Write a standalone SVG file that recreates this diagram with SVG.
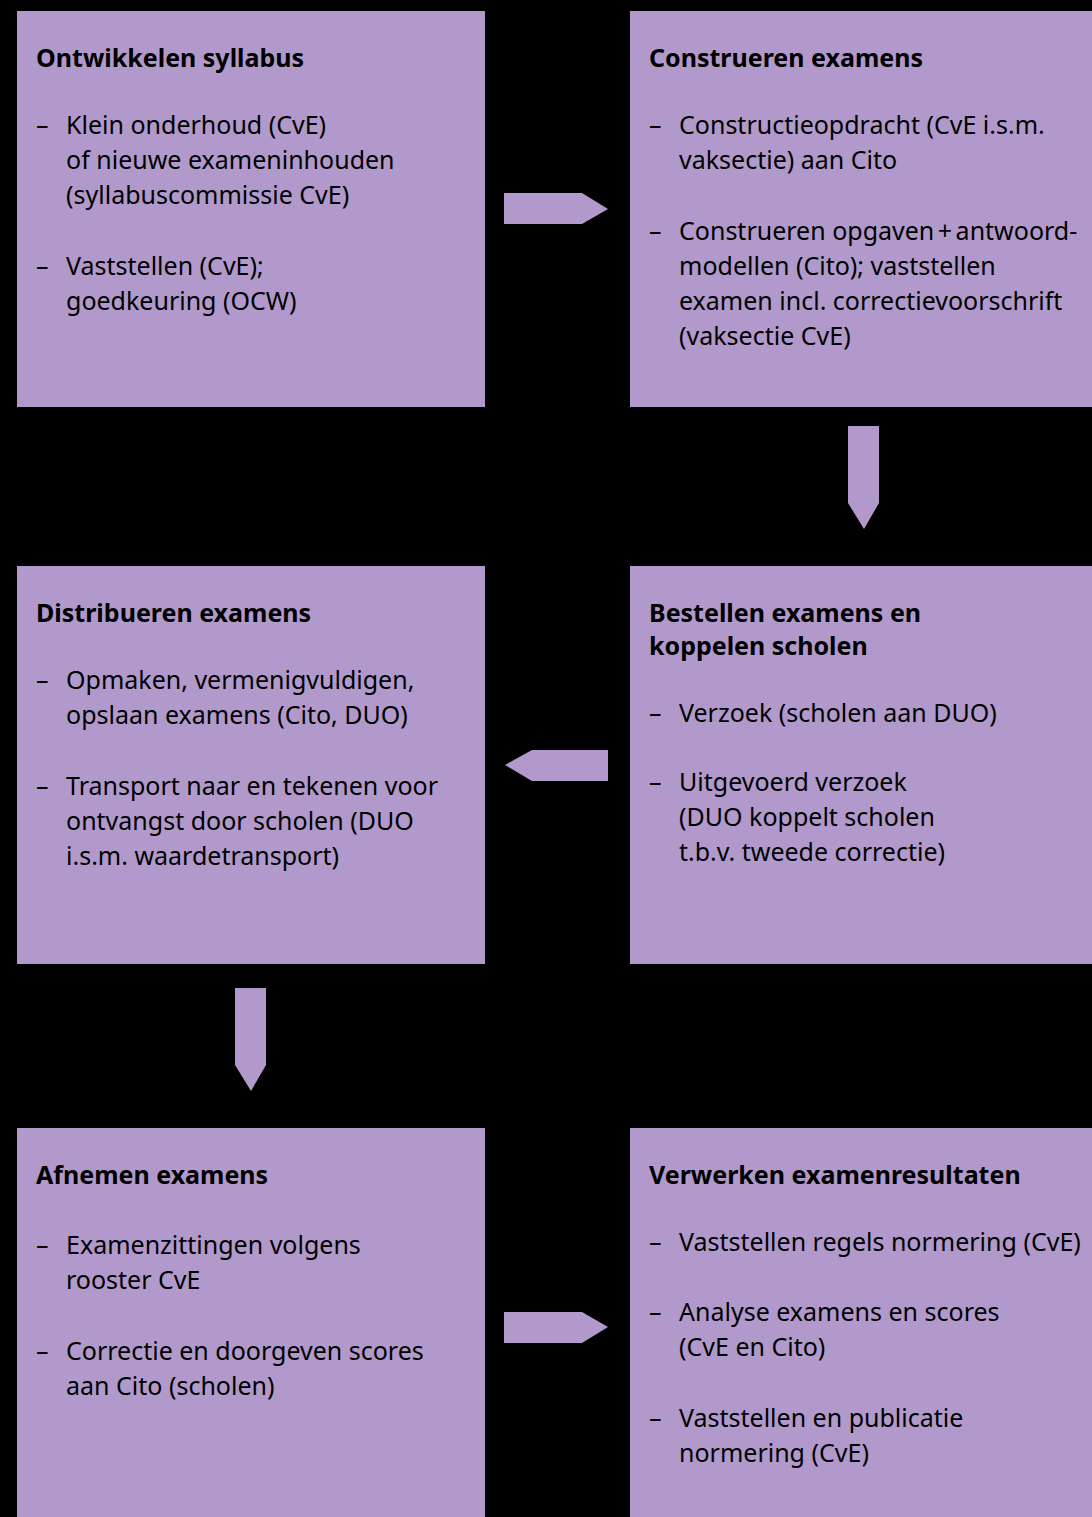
<svg xmlns="http://www.w3.org/2000/svg" width="1092" height="1517" viewBox="0 0 1092 1517">
<style>
.box{fill:#b19acb}
.arrow{fill:#b19acb}
text{font-family:"Noto Sans","Open Sans",sans-serif;font-size:25px;fill:#000}
.t{font-weight:bold}
</style>
<rect width="1092" height="1517" fill="#000"/>
<g id="n1">
<rect class="box" x="17" y="11" width="468" height="396"/>
<text class="t" x="36" y="67">Ontwikkelen syllabus</text>
<text x="36" y="134">–</text><text x="66" y="134">Klein onderhoud (CvE)</text>
<text x="66" y="169">of nieuwe exameninhouden</text>
<text x="66" y="204">(syllabuscommissie CvE)</text>
<text x="36" y="275">–</text><text x="66" y="275">Vaststellen (CvE);</text>
<text x="66" y="310">goedkeuring (OCW)</text>
</g>
<g id="n2">
<rect class="box" x="630" y="11" width="462" height="396"/>
<text class="t" x="649" y="67">Construeren examens</text>
<text x="649" y="134">–</text><text x="679" y="134">Constructieopdracht (CvE i.s.m.</text>
<text x="679" y="169">vaksectie) aan Cito</text>
<text x="649" y="240">–</text><text x="679" y="240">Construeren opgaven <tspan dx="-3">+</tspan> <tspan dx="-3">antwoord-</tspan></text>
<text x="679" y="275">modellen (Cito); vaststellen</text>
<text x="679" y="310">examen incl. correctievoorschrift</text>
<text x="679" y="345">(vaksectie CvE)</text>
</g>
<g id="n3">
<rect class="box" x="630" y="566" width="462" height="398"/>
<text class="t" x="649" y="622">Bestellen examens en</text>
<text class="t" x="649" y="655">koppelen scholen</text>
<text x="649" y="722">–</text><text x="679" y="722">Verzoek (scholen aan DUO)</text>
<text x="649" y="791">–</text><text x="679" y="791">Uitgevoerd verzoek</text>
<text x="679" y="826">(DUO koppelt scholen</text>
<text x="679" y="861">t.b.v. tweede correctie)</text>
</g>
<g id="n4">
<rect class="box" x="17" y="566" width="468" height="398"/>
<text class="t" x="36" y="622">Distribueren examens</text>
<text x="36" y="689">–</text><text x="66" y="689">Opmaken, vermenigvuldigen,</text>
<text x="66" y="724">opslaan examens (Cito, DUO)</text>
<text x="36" y="795">–</text><text x="66" y="795">Transport naar en tekenen voor</text>
<text x="66" y="830">ontvangst door scholen (DUO</text>
<text x="66" y="865">i.s.m. waardetransport)</text>
</g>
<g id="n5">
<rect class="box" x="17" y="1128" width="468" height="389"/>
<text class="t" x="36" y="1184">Afnemen examens</text>
<text x="36" y="1254">–</text><text x="66" y="1254">Examenzittingen volgens</text>
<text x="66" y="1289">rooster CvE</text>
<text x="36" y="1360">–</text><text x="66" y="1360">Correctie en doorgeven scores</text>
<text x="66" y="1395">aan Cito (scholen)</text>
</g>
<g id="n6">
<rect class="box" x="630" y="1128" width="462" height="389"/>
<text class="t" x="649" y="1184">Verwerken examenresultaten</text>
<text x="649" y="1251">–</text><text x="679" y="1251">Vaststellen regels normering (CvE)</text>
<text x="649" y="1321">–</text><text x="679" y="1321">Analyse examens en scores</text>
<text x="679" y="1356">(CvE en Cito)</text>
<text x="649" y="1427">–</text><text x="679" y="1427">Vaststellen en publicatie</text>
<text x="679" y="1462">normering (CvE)</text>
</g>
<g id="connectors">
<polygon class="arrow" points="504,193 582,193 608,209 582,224 504,224"/>
<polygon class="arrow" points="848,426 879,426 879,503 864,529 848,503"/>
<polygon class="arrow" points="608,750 608,781 532,781 505,765 532,750"/>
<polygon class="arrow" points="235,988 266,988 266,1065 251,1091 235,1065"/>
<polygon class="arrow" points="504,1312 582,1312 608,1327 582,1343 504,1343"/>
</g>
</svg>
